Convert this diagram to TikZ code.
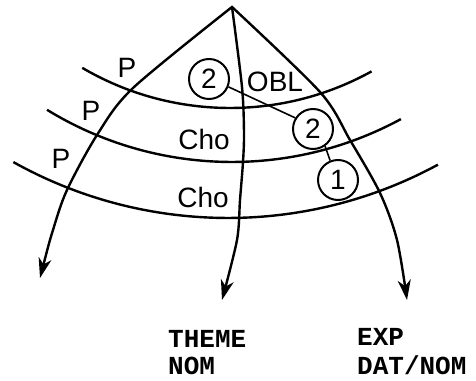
\documentclass[tikz,border=0pt]{standalone}
\usepackage{fontspec}
\setmainfont{Liberation Sans}
\newfontfamily\casefont{Liberation Mono}
\usetikzlibrary{arrows.meta}

\begin{document}
\begin{tikzpicture}[x=1pt, y=1pt,
    head/.tip={Stealth[length=20pt, width=13pt, inset=6pt]},
    curve/.style={line width=2.4pt, line join=miter},
    band/.style={line width=2.4pt},
    ring/.style={circle, draw, line width=2pt, minimum size=40pt, inner sep=0pt, font=\fontsize{28}{30}\selectfont},
    tag/.style={inner sep=0pt, font=\fontsize{28}{30}\selectfont},
    case/.style={anchor=north west, align=left, inner sep=0pt, font=\casefont\bfseries\fontsize{26}{27}\selectfont},
    link/.style={line width=1.6pt}]
    \useasboundingbox (0,0) rectangle (476,380);
    \coordinate (apex) at (232,373);

    % the three bands
    \foreach \cx/\cy/\r/\a/\b in {230/564/292/239.6/299, 232/572/354/238.5/298.5, 228/602/440/240.8/298.5}
        \draw[band] (\cx,\cy) ++(\a:\r pt) arc[start angle=\a, end angle=\b, radius=\r pt];

    % the three arrows from the top
    \draw[curve, head-head] plot[smooth] coordinates {(40,102) (53,150) (67,190) (97,245) (133,292) (apex)}
        -- plot[smooth] coordinates {(apex) (320,288) (350,240) (380,187) (397,140) (407,80)};
    \draw[curve, -head] plot[smooth] coordinates {(apex) (242,293) (244,247) (243,218) (240,180) (237,140) (222,80)};

    \foreach \x/\y [count=\i] in {127/312, 91/269, 61/221}
        \node[tag] (p\i) at (\x,\y) {P};
    \node[tag] (obl) at (275,298) {OBL};
    \node[tag] (cho1) at (204,241) {Cho};
    \node[tag] (cho2) at (203,183) {Cho};

    \node[ring] (twoa) at (209,301) {2};
    \node[ring] (twob) at (313,251) {2};
    \node[ring] (one) at (338,200) {1};
    \draw[link] (twoa.-22) -- (twob.148);
    \draw[link] (twob.-55) -- (one.112);

    \node[case] (theme) at (168,50) {THEME\\NOM};
    \node[case] (exp) at (357,52) {EXP\\[2pt]DAT/NOM};
\end{tikzpicture}
\end{document}
